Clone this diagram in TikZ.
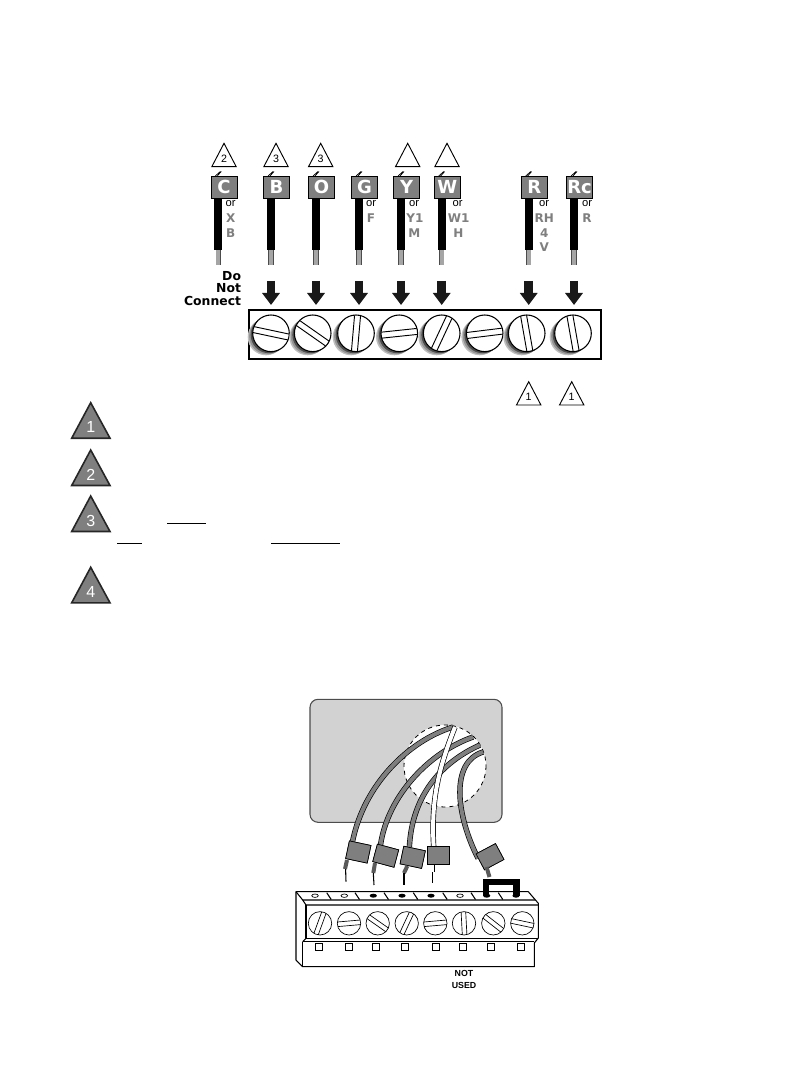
\documentclass[tikz,border=0pt]{standalone}
\usepackage{fontspec}
\setmainfont{Liberation Sans}
\newfontfamily\heavyfont{DejaVu Sans}
\usetikzlibrary{arrows.meta}
\definecolor{tagGray}{HTML}{7F7F7F}
\definecolor{plateGray}{HTML}{D2D2D2}
\tikzset{
    tagbox/.style={draw=black, line width=0.6pt, fill=tagGray, text=white, minimum width=19.5pt, minimum height=16.5pt, inner sep=0pt, font=\heavyfont\bfseries\fontsize{13.5}{14}\selectfont},
    orlabel/.style={font=\fontsize{8.4}{9}\selectfont, inner sep=0pt},
    altlabel/.style={font=\heavyfont\bfseries\fontsize{9}{10}\selectfont, text=tagGray, inner sep=0pt},
    marker/.style={draw=black, line width=0.7pt, fill=white, line join=miter},
    markernum/.style={font=\fontsize{8}{9}\selectfont, inner sep=0pt},
    notetri/.style={draw=black!85, line width=1.2pt, fill=tagGray, line join=miter},
    notenum/.style={font=\fontsize{12}{13}\selectfont, text=white, inner sep=0pt},
    donot/.style={font=\heavyfont\bfseries\fontsize{9.3}{10}\selectfont, inner sep=0pt, anchor=east},
    downarrow/.style={line width=6.4pt, -{Triangle[width=12.8pt, length=9pt]}, black!90},
    lead/.style={draw=black, line width=0.5pt, double=tagGray, double distance=3pt},
    whitelead/.style={draw=black, line width=0.5pt, double=white, double distance=3pt},
    clip box/.style={draw=black, line width=0.5pt, fill=tagGray, minimum width=16.5pt, minimum height=13.5pt, inner sep=0pt},
    stub/.style={line width=3pt, draw=black!65},
    bare/.style={line width=0.8pt, draw=black},
    block/.style={draw=black, line width=0.8pt, line join=round},
}
\begin{document}
\begin{tikzpicture}[x=0.75pt, y=-0.75pt]
    \useasboundingbox (0,0) rectangle (792,1080);

    % Wires with their tags
    \foreach \n/\x/\t in {C/218.3/C, B/271/B, O/316/O, G/359/G, Y/401/Y, W/441.7/W, R/528.7/R, Q/574/Rc}{
        \node[tagbox] (tag\n) at (\x+5.6,187) {\t};
        \draw[line width=0.4pt, draw=black!70, double=tagGray!70, double distance=3pt] (\x,250) -- (\x,265.5);
        \draw[line width=6pt, black] (\x,198) -- (\x,250);
        \draw[line width=0.5pt, black] (\x-3,176) -- (\x+2,171.5) (\x-1,176) -- (\x+3,171.5);
    }

    % Arrows into the strip
    \foreach \n/\x in {B/271, O/316, G/359, Y/401, W/441.7, R/528.7, Q/574}{
        \coordinate (arrowtop\n) at (\x,281);
        \coordinate (arrowtip\n) at (\x,305);
        \draw[downarrow] (arrowtop\n) -- (arrowtip\n);
    }

    % Labels beside the wires
    \foreach \x in {230.7,371,414,457.7,544,587}
        \node[orlabel] at (\x,204) {or};
    \node[altlabel] (altX) at (230.7,217.7) {X};
    \node[altlabel] (altB) at (230.7,233.3) {B};
    \node[altlabel] (altF) at (371,217.7) {F};
    \node[altlabel] (altYone) at (415,217.7) {Y1};
    \node[altlabel] (altM) at (414.3,233.3) {M};
    \node[altlabel] (altWone) at (458.7,217.7) {W1};
    \node[altlabel] (altH) at (458.3,233.3) {H};
    \node[altlabel] (altRH) at (544.3,217.7) {RH};
    \node[altlabel] (altFour) at (544.3,233.3) {4};
    \node[altlabel] (altV) at (544.3,247.3) {V};
    \node[altlabel] (altR) at (587,217.7) {R};

    \node[donot] (textDo) at (241.3,275.7) {Do};
    \node[donot] (textNot) at (241.3,288.3) {Not};
    \node[donot] (textConnect) at (241.3,301) {Connect};

    % Small triangles above and below
    \foreach \x/\k in {224/2, 276/3, 320.7/3, 407.7/{}, 447/{}}{
        \draw[marker] (\x,143.3) -- (\x-12.2,166.7) -- (\x+12.2,166.7) -- cycle;
        \node[markernum] at (\x,159) {\k};
    }
    \foreach \x/\k in {528.7/1, 571.7/1}{
        \draw[marker] (\x,381.7) -- (\x-12.2,405) -- (\x+12.2,405) -- cycle;
        \node[markernum] at (\x,397.3) {\k};
    }

    % Terminal strip
    \draw[black, line width=1.3pt] (248.7,310) rectangle (601.3,359);
    \foreach \x/\a in {271/-12, 312.7/-35, 356/85, 399.3/6, 441.7/65, 484.7/7, 526.7/100, 573/100}{
        \fill[gray!50] (\x-5,337) circle (18.3);
        \fill[gray!85] (\x-3.6,336.1) circle (18.3);
        \fill[black!70] (\x-2,334.9) circle (18.3);
        \draw[black, line width=0.8pt, fill=white] (\x,333.3) circle (18.3);
        \begin{scope}[shift={(\x,333.3)}, rotate=\a]
            \draw[black, line width=0.7pt] (-17.8,-3) -- (17.8,-3) (-17.8,3) -- (17.8,3);
        \end{scope}
    }

    % Gray note triangles
    \foreach \y/\k in {402.7/1, 450/2, 496/3, 567.3/4}{
        \draw[notetri] (90.7,\y) -- (71.7,\y+35.5) -- (110,\y+35.5) -- cycle;
        \node[notenum] at (90.7,\y+24.5) {\k};
    }
    \draw[black, line width=0.7pt] (167,523.3) -- (206,523.3);
    \draw[black, line width=0.7pt] (117.3,543.3) -- (141.7,543.3);
    \draw[black, line width=0.7pt] (271.3,543.3) -- (340,543.3);

    % Wall plate with hole
    \draw[draw=black!70, line width=0.8pt, fill=plateGray, rounded corners=6pt] (310,699.3) rectangle (502,822.3);
    \draw[black, fill=white, dashed, line width=0.6pt] (445,766) circle (41);

    % Clips
    \node[clip box, rotate=-12] (clipA) at (358.3,852) {};
    \node[clip box, rotate=-15] (clipB) at (385.7,855.7) {};
    \node[clip box, rotate=-12] (clipC) at (412.7,857.3) {};
    \node[clip box] (clipD) at (438,855.7) {};
    \node[clip box, rotate=28] (clipE) at (490,856.7) {};

    % Leads
    \draw[lead] (453,727) .. controls (408,741) and (364,785) .. (clipA.130);
    \draw[lead] (473,737) .. controls (430,752) and (388,795) .. (clipB.130);
    \draw[lead] (480,745) .. controls (442,762) and (412,795) .. (clipC.120);
    \draw[lead] (483,752) .. controls (450,762) and (456,815) .. (clipE.160);
    \draw[whitelead] (455,727) .. controls (438,770) and (431,800) .. (clipD.115);

    % Clips again over the leads
    \node[clip box, rotate=-12] (clipAtop) at (clipA) {};
    \node[clip box, rotate=-15] (clipBtop) at (clipB) {};
    \node[clip box, rotate=-12] (clipCtop) at (clipC) {};
    \node[clip box] (clipDtop) at (clipD) {};
    \node[clip box, rotate=28] (clipEtop) at (clipE) {};

    % Bare ends
    \draw[stub] (347,860) -- (345,869);
    \draw[bare] (345.6,869) -- (346,881.7);
    \draw[stub] (375,863) -- (373.3,873);
    \draw[bare] (373.3,873) -- (374,885);
    \draw[stub] (407.3,866) -- (404,873);
    \draw[bare] (404,873) -- (404,885);
    \draw[draw=black, line width=0.5pt, double=white, double distance=2.2pt] (432.7,865) -- (432.7,872);
    \draw[bare] (432.7,872) -- (432.7,883);
    \draw[stub] (486.5,867) -- (489.5,877);

    % Terminal block
    \draw[block] (296,891.7) -- (528.3,891.7) -- (538.3,903.3) -- (538.3,938) -- (534.3,943) -- (534.3,966.7) -- (302.7,966.7) -- (296,960) -- cycle;
    \draw[block] (296,891.7) -- (302.7,900) -- (535,900);
    \draw[block] (302.7,900) -- (306,905) -- (538.3,905);
    \draw[block] (306,905) -- (306,938.3) -- (538.3,938.3);
    \draw[block] (302.7,941.7) -- (534.3,941.7);
    \draw[block] (302.7,941.7) -- (302.7,966.7);
    \draw[block] (302.7,941.7) -- (306,938.3);
    \foreach \x in {326.7,355,384,413.3,442.7,471,498.3}
        \draw[block] (\x,892.7) -- (\x+4.5,899.5);
    \foreach \x in {315,344.3,460}
        \draw[black, line width=0.5pt, fill=white] (\x,895.7) ellipse (3.3 and 1.7);
    \foreach \x in {373.3,402,431,486.7,516}
        \fill[black] (\x,895.7) ellipse (3.6 and 2);

    % Jumper
    \draw[black, line width=5pt, line join=miter] (486,896) -- (486,882) -- (516.3,882) -- (516.3,896);

    % Flat screws
    \foreach \x/\a in {320/70, 349/5, 377.7/-35, 406.7/65, 435.3/5, 464/93, 493.3/-38, 522.3/-12}{
        \draw[black, line width=0.5pt, fill=white] (\x,923.3) circle (11.7);
        \begin{scope}[shift={(\x,923.3)}, rotate=\a]
            \draw[black, line width=0.5pt] (-11.4,-2.3) -- (11.4,-2.3) (-11.4,2.3) -- (11.4,2.3);
        \end{scope}
    }
    \foreach \x in {319,349,376,405,436,462.7,491,520.7}
        \draw[black, line width=0.7pt, fill=white] (\x-3.5,943.2) rectangle (\x+3.5,950.2);

    \node[font=\bfseries\fontsize{6.6}{8}\selectfont, inner sep=0pt] (textNotUsedA) at (464,973.3) {NOT};
    \node[font=\bfseries\fontsize{6.6}{8}\selectfont, inner sep=0pt] (textNotUsedB) at (464,985) {USED};
\end{tikzpicture}
\end{document}
